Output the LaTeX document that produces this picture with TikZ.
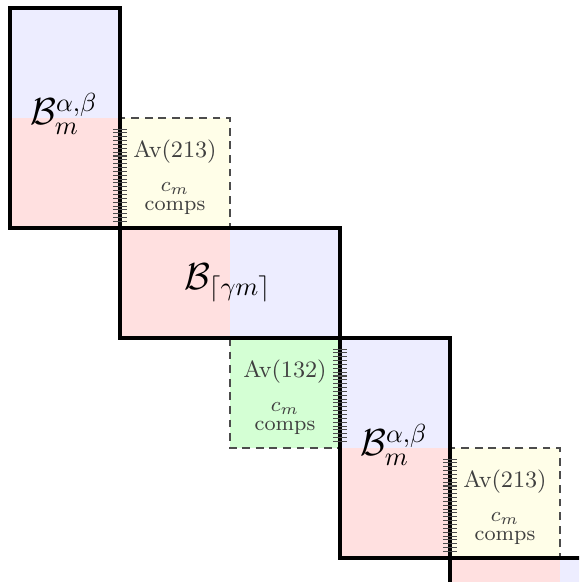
\documentclass[tikz,border=0pt]{standalone}
\usepackage{amsmath,amssymb,xcolor,tikz}
\colorlet{bluepart}{blue!7}
\colorlet{redpart}{red!12}
\colorlet{avyellow}{yellow!9}
\colorlet{avgreen}{green!17}
\tikzset{
  blockframe/.style={draw=black, very thick},
  avframe/.style={draw=black!70, semithick, dash pattern=on 3pt off 2.2pt},
  avtext/.style={align=center, text=black!75, inner sep=0pt},
}
\begin{document}
\begin{tikzpicture}[x=1.48cm, y=1.48cm]
        \useasboundingbox (-0.091,0.073) rectangle (5.173,-5.218);
        \clip (-0.091,0.073) rectangle (5.173,-5.218);
        % coloured halves of the blocks
        \fill[bluepart] (0,0) rectangle (1,-1);
        \fill[redpart] (0,-1) rectangle (1,-2);
        \fill[redpart] (1,-2) rectangle (2,-3);
        \fill[bluepart] (2,-2) rectangle (3,-3);
        \fill[bluepart] (3,-3) rectangle (4,-4);
        \fill[redpart] (3,-4) rectangle (4,-5);
        \fill[redpart] (4,-5) rectangle (5,-6);
        \fill[bluepart] (5,-5) rectangle (6,-6);
        % Av boxes
        \filldraw[fill=avyellow, avframe] (1,-1) rectangle (2,-2);
        \filldraw[fill=avgreen, avframe] (2,-3) rectangle (3,-4);
        \filldraw[fill=avyellow, avframe] (4,-4) rectangle (5,-5);
        % blocks
        \draw[blockframe] (0,0) rectangle (1,-2);
        \draw[blockframe] (1,-2) rectangle (3,-3);
        \draw[blockframe] (3,-3) rectangle (4,-5);
        \draw[blockframe] (4,-6) -- (4,-5) -- (6,-5);
        % hatching along the shared edges
        \foreach \hx/\hy in {1/-1, 3/-3, 4/-4} {
            \foreach \k in {0,...,24} {
                \draw[black!70, line width=0.4pt] (\hx-0.065,\hy-0.1-0.035*\k) -- (\hx+0.065,\hy-0.1-0.035*\k);
            }
        }
        % labels
        \node (blk1) at (0.49,-0.96) {\Large $\mathcal{B}_m^{\alpha,\beta}$};
        \node (blk2) at (1.98,-2.5) {\Large $\mathcal{B}_{\lceil\gamma m\rceil}$};
        \node (blk3) at (3.49,-3.97) {\Large $\mathcal{B}_m^{\alpha,\beta}$};
        \foreach \ax/\ay/\perm [count=\i] in {1.5/-1.54/213, 2.5/-3.54/132, 4.5/-4.54/213} {
            \node[avtext] (av\i) at (\ax,\ay) {\small Av(\perm)\\[1pt] \footnotesize $c_m$\\[-4.5pt] \footnotesize comps};
        }
\end{tikzpicture}
\end{document}
